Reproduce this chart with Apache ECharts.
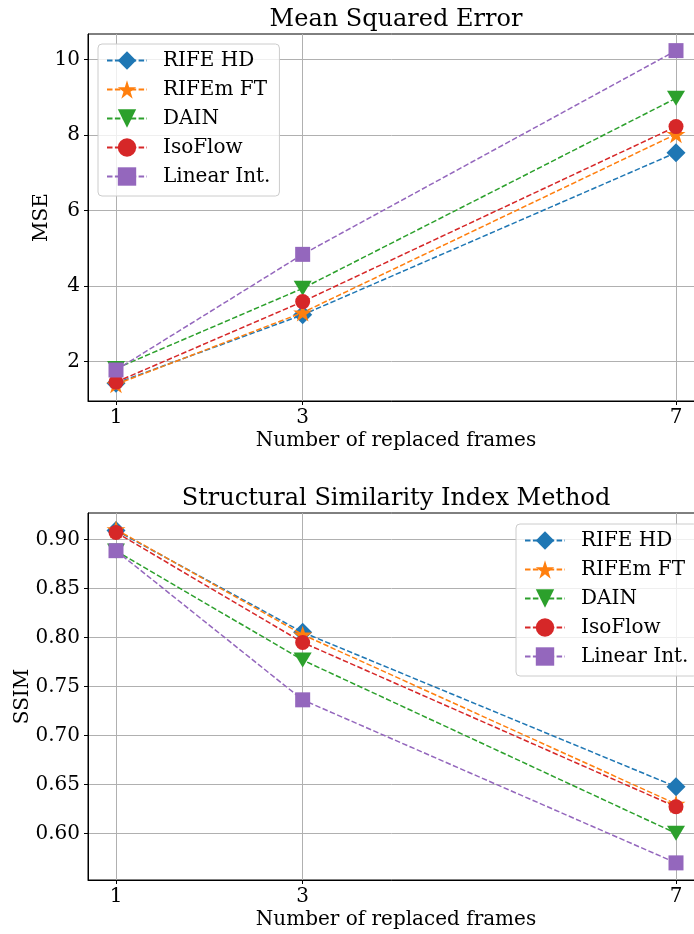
<!DOCTYPE html>
<html>
<head>
<meta charset="utf-8">
<script src="https://cdn.jsdelivr.net/npm/echarts@6/dist/echarts.min.js"></script>
<style>html,body{margin:0;padding:0;background:#fff}#c{width:694px;height:934px}</style>
</head>
<body>
<div id="c"></div>
<script>
const frames = [1, 3, 7];
const seriesNames = ['RIFE HD', 'RIFEm FT', 'DAIN', 'IsoFlow', 'Linear Int.'];
const mseRIFEHD = [1.43, 3.24, 7.53];
const mseRIFEmFT = [1.40, 3.30, 8.02];
const mseDAIN = [1.82, 3.94, 8.97];
const mseIsoFlow = [1.46, 3.59, 8.22];
const mseLinear = [1.78, 4.84, 10.23];
const ssimRIFEHD = [0.9095, 0.8054, 0.6476];
const ssimRIFEmFT = [0.9105, 0.8030, 0.6300];
const ssimDAIN = [0.8885, 0.7770, 0.6000];
const ssimIsoFlow = [0.9075, 0.7950, 0.6271];
const ssimLinear = [0.8888, 0.7364, 0.5698];
const mseTicks = [2, 4, 6, 8, 10];
const ssimTicks = [0.60, 0.65, 0.70, 0.75, 0.80, 0.85, 0.90];

const colors = ['#1f77b4', '#ff7f0e', '#2ca02c', '#d62728', '#9467bd'];
const starPath = 'path://M10,0 L12.24,6.92 L19.51,6.91 L13.62,11.18 L15.88,18.09 L10,13.81 L4.12,18.09 L6.38,11.18 L0.49,6.91 L7.76,6.92 Z';
const symbols = [
  {symbol: 'diamond', symbolSize: [19, 19], symbolRotate: 0},
  {symbol: starPath, symbolSize: [19, 18], symbolRotate: 0},
  {symbol: 'triangle', symbolSize: [18, 15], symbolRotate: 180},
  {symbol: 'circle', symbolSize: 15, symbolRotate: 0},
  {symbol: 'rect', symbolSize: 15, symbolRotate: 0}
];
const mseAll = [mseRIFEHD, mseRIFEmFT, mseDAIN, mseIsoFlow, mseLinear];
const ssimAll = [ssimRIFEHD, ssimRIFEmFT, ssimDAIN, ssimIsoFlow, ssimLinear];

const FONT = 'DejaVu Serif';
const fs = 20;

function mkSeries(vals, idx) {
  const out = [];
  vals.forEach((arr, i) => {
    out.push(Object.assign({
      type: 'line',
      name: seriesNames[i],
      xAxisIndex: idx,
      yAxisIndex: idx,
      data: frames.map((f, j) => [f, arr[j]]),
      lineStyle: {color: colors[i], width: 1.5, type: [5.5, 2.4]},
      itemStyle: {color: colors[i], opacity: 1},
      showAllSymbol: true,
      animation: false,
      z: 2 + i
    }, symbols[i]));
  });
  return out;
}

function xAxisCfg(gi) {
  return {
    type: 'value', gridIndex: gi, min: 0.7, max: 7.3,
    name: 'Number of replaced frames', nameLocation: 'middle', nameGap: 30,
    nameMoveOverlap: false,
    nameTextStyle: {fontFamily: FONT, fontSize: fs, color: '#000'},
    axisLine: {show: true, lineStyle: {color: '#000', width: 1}},
    axisTick: {show: true, inside: false, length: 4, lineStyle: {color: '#000'}, customValues: frames},
    axisLabel: {show: true, margin: 7, fontFamily: FONT, fontSize: fs, color: '#000', customValues: frames},
    splitLine: {show: true, lineStyle: {color: '#b0b0b0', width: 1}}
  };
}
function yAxisCfg(gi, min, max, ticks, name, gap, fmt) {
  return {
    type: 'value', gridIndex: gi, min: min, max: max,
    name: name, nameLocation: 'middle', nameGap: gap,
    nameMoveOverlap: false,
    nameTextStyle: {fontFamily: FONT, fontSize: fs, color: '#000'},
    axisLine: {show: true, lineStyle: {color: '#000', width: 1}},
    axisTick: {show: true, inside: false, length: 4, lineStyle: {color: '#000'}, customValues: ticks},
    axisLabel: {show: true, margin: 8, fontFamily: FONT, fontSize: fs, color: '#000', customValues: ticks, formatter: fmt},
    splitLine: {show: true, lineStyle: {color: '#b0b0b0', width: 1}}
  };
}
function legendCfg(left, top) {
  return {
    orient: 'vertical', left: left, top: top,
    data: seriesNames,
    itemWidth: 40, itemHeight: 23, itemGap: 6,
    padding: [5, 9, 8, 8],
    backgroundColor: 'rgba(255,255,255,0.8)',
    borderColor: '#cccccc', borderWidth: 1, borderRadius: 4,
    textStyle: {fontFamily: FONT, fontSize: fs, color: '#000', lineHeight: 23, padding: [0, 0, 0, 11]},
    selectedMode: false
  };
}

const chart = echarts.init(document.getElementById('c'), null, {renderer: 'canvas'});
chart.setOption({
  backgroundColor: '#fff',
  animation: false,
  title: [
    {text: 'Mean Squared Error', left: 391, textAlign: 'center', top: 3,
     textStyle: {fontFamily: FONT, fontSize: 24, fontWeight: 'normal', color: '#000'}},
    {text: 'Structural Similarity Index Method', left: 391, textAlign: 'center', top: 482,
     textStyle: {fontFamily: FONT, fontSize: 24, fontWeight: 'normal', color: '#000'}}
  ],
  grid: [
    {left: 88, width: 616, top: 34, height: 367, outerBoundsMode: 'none', containLabel: false,
     show: true, borderColor: '#000', borderWidth: 1, backgroundColor: 'transparent'},
    {left: 88, width: 616, top: 513, height: 367, outerBoundsMode: 'none', containLabel: false,
     show: true, borderColor: '#000', borderWidth: 1, backgroundColor: 'transparent'}
  ],
  xAxis: [xAxisCfg(0), xAxisCfg(1)],
  yAxis: [
    yAxisCfg(0, 0.96, 10.67, mseTicks, 'MSE', 36, v => String(v)),
    yAxisCfg(1, 0.5523, 0.9273, ssimTicks, 'SSIM', 55, v => v.toFixed(2))
  ],
  legend: [legendCfg(98, 44), legendCfg(516, 524)],
  series: mkSeries(mseAll, 0).concat(mkSeries(ssimAll, 1))
});
</script>
</body>
</html>
